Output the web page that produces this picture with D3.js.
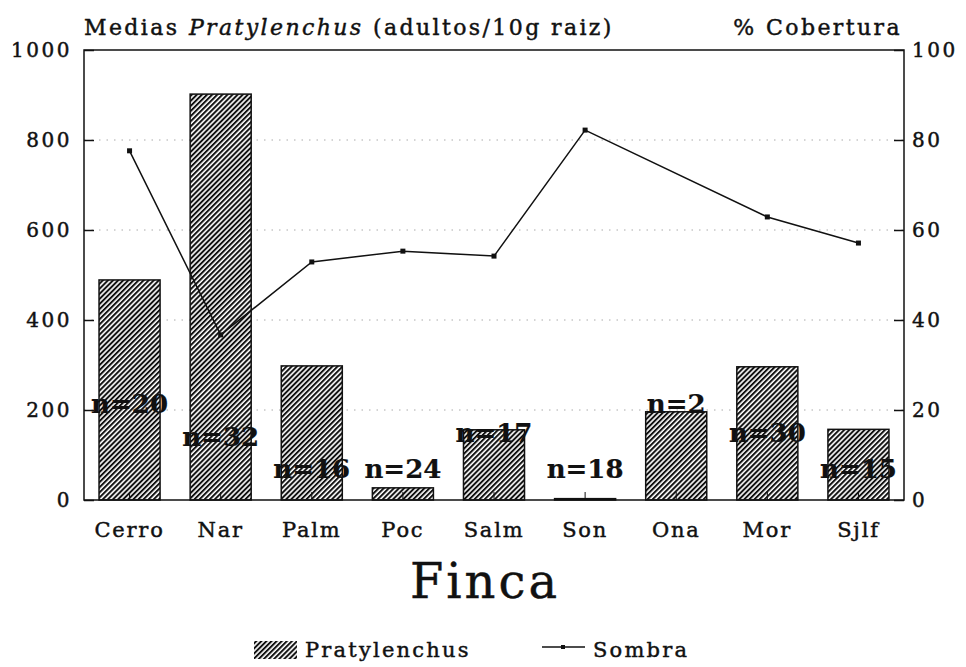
<!DOCTYPE html>
<html>
<head>
<meta charset="utf-8">
<script src="https://cdn.jsdelivr.net/npm/d3@7"></script>
<style>
  body { margin: 0; background: #fff; }
  text { font-family: "DejaVu Serif", serif; fill: #111; stroke: #111; stroke-width: 0.45px; }
  text.n { stroke-width: 0.2px; }
</style>
</head>
<body>
<svg id="chart"></svg>
<script>
const fincas = ["Cerro", "Nar", "Palm", "Poc", "Salm", "Son", "Ona", "Mor", "Sjlf"];
const pratylenchus = [489, 902, 298, 27, 156, 3, 196, 296, 157];
const sombra = [77.6, 36.7, 52.9, 55.3, 54.2, 82.2, null, 62.9, 57.1];
const nLabels = ["n=20", "n=32", "n=16", "n=24", "n=17", "n=18", "n=2", "n=30", "n=15"];
const nLabelY = [215, 140, 70, 70, 150, 70, 215, 150, 70];
const leftTicks = [0, 200, 400, 600, 800, 1000];
const rightTicks = [0, 20, 40, 60, 80, 100];

const width = 966, height = 667;
const margin = {top: 50, right: 62, bottom: 167, left: 84};

const svg = d3.select("#chart")
    .attr("width", width)
    .attr("height", height)
    .attr("viewBox", [0, 0, width, height]);

const defs = svg.append("defs");
const pat = defs.append("pattern")
    .attr("id", "hatch")
    .attr("patternUnits", "userSpaceOnUse")
    .attr("width", 3.6)
    .attr("height", 3.6)
    .attr("patternTransform", "rotate(45)");
pat.append("rect").attr("width", 3.6).attr("height", 3.6).attr("fill", "#fff");
pat.append("rect").attr("width", 2).attr("height", 3.6).attr("fill", "#111");

const x = d3.scaleBand()
    .domain(fincas)
    .range([margin.left, width - margin.right])
    .paddingInner(0.33)
    .paddingOuter(0.165);

const y = d3.scaleLinear().domain([0, 1000]).range([height - margin.bottom, margin.top]);
const y2 = d3.scaleLinear().domain([0, 100]).range([height - margin.bottom, margin.top]);

const x0 = margin.left, x1 = width - margin.right;
const yb = height - margin.bottom, yt = margin.top;

// dotted grid
svg.append("g")
    .selectAll("line")
    .data(leftTicks.filter(d => d > 0 && d < 1000))
    .join("line")
    .attr("x1", x0).attr("x2", x1)
    .attr("y1", d => y(d)).attr("y2", d => y(d))
    .attr("stroke", "#aaa")
    .attr("stroke-width", 1)
    .attr("stroke-dasharray", "1.5,6");

// bars
svg.append("g")
    .selectAll("rect")
    .data(fincas)
    .join("rect")
    .attr("x", d => x(d))
    .attr("width", x.bandwidth())
    .attr("y", (d, i) => y(pratylenchus[i]))
    .attr("height", (d, i) => y(0) - y(pratylenchus[i]))
    .attr("fill", "url(#hatch)")
    .attr("stroke", "#111")
    .attr("stroke-width", 1.5);

// frame
svg.append("rect")
    .attr("x", x0).attr("y", yt)
    .attr("width", x1 - x0).attr("height", yb - yt)
    .attr("fill", "none")
    .attr("stroke", "#111")
    .attr("stroke-width", 1.5);

// left axis
const yAxis = d3.axisRight(y).tickValues(leftTicks).tickSize(10).tickFormat("");
svg.append("g")
    .attr("transform", `translate(${x0},0)`)
    .call(yAxis)
    .call(g => g.select(".domain").remove())
    .call(g => g.selectAll("line").attr("stroke", "#111").attr("stroke-width", 1.5));
svg.append("g")
    .selectAll("text")
    .data(leftTicks)
    .join("text")
    .attr("x", x0 - 12)
    .attr("y", d => y(d))
    .attr("dy", "0.36em")
    .attr("text-anchor", "end")
    .style("font-size", "20px")
    .style("letter-spacing", "2.5px")
    .text(d => d);

// right axis
const y2Axis = d3.axisLeft(y2).tickValues(rightTicks).tickSize(10).tickFormat("");
svg.append("g")
    .attr("transform", `translate(${x1},0)`)
    .call(y2Axis)
    .call(g => g.select(".domain").remove())
    .call(g => g.selectAll("line").attr("stroke", "#111").attr("stroke-width", 1.5));
svg.append("g")
    .selectAll("text")
    .data(rightTicks)
    .join("text")
    .attr("x", x1 + 8)
    .attr("y", d => y2(d))
    .attr("dy", "0.36em")
    .attr("text-anchor", "start")
    .style("font-size", "20px")
    .style("letter-spacing", "2.5px")
    .text(d => d);

// bottom category ticks + labels
svg.append("g")
    .selectAll("line")
    .data(fincas)
    .join("line")
    .attr("x1", d => x(d) + x.bandwidth() / 2)
    .attr("x2", d => x(d) + x.bandwidth() / 2)
    .attr("y1", yb).attr("y2", yb - 8)
    .attr("stroke", "#111").attr("stroke-width", 1);
svg.append("g")
    .selectAll("text")
    .data(fincas)
    .join("text")
    .attr("x", d => x(d) + x.bandwidth() / 2)
    .attr("y", yb + 37)
    .attr("text-anchor", "middle")
    .style("font-size", "21px")
    .style("letter-spacing", "1.8px")
    .text(d => d);

// line
const pts = fincas.map((f, i) => ({f, v: sombra[i]})).filter(d => d.v != null);
const line = d3.line()
    .x(d => x(d.f) + x.bandwidth() / 2)
    .y(d => y2(d.v));
svg.append("path")
    .datum(pts)
    .attr("d", line)
    .attr("fill", "none")
    .attr("stroke", "#111")
    .attr("stroke-width", 1.5);
svg.append("g")
    .selectAll("rect")
    .data(pts)
    .join("rect")
    .attr("x", d => x(d.f) + x.bandwidth() / 2 - 2.5)
    .attr("y", d => y2(d.v) - 2.5)
    .attr("width", 5).attr("height", 5)
    .attr("fill", "#111");

// n labels
svg.append("g")
    .selectAll("text")
    .data(fincas)
    .join("text")
    .attr("class", "n")
    .attr("x", d => x(d) + x.bandwidth() / 2)
    .attr("y", (d, i) => y(nLabelY[i]))
    .attr("dy", "0.36em")
    .attr("text-anchor", "middle")
    .style("font-size", "26px")
    .style("font-weight", "bold")
    .text((d, i) => nLabels[i]);

// titles
const title = svg.append("text")
    .attr("x", x0)
    .attr("y", 35)
    .style("font-size", "22px")
    .style("letter-spacing", "2.4px");
title.append("tspan").text("Medias ");
title.append("tspan").style("font-style", "italic").text("Pratylenchus");
title.append("tspan").text(" (adultos/10g raiz)");

svg.append("text")
    .attr("x", x1 - 2)
    .attr("y", 35)
    .attr("text-anchor", "end")
    .style("font-size", "22px")
    .style("letter-spacing", "2.4px")
    .text("% Cobertura");

svg.append("text")
    .attr("x", (x0 + x1) / 2 - 9)
    .attr("y", 598)
    .attr("text-anchor", "middle")
    .style("font-size", "48px")
    .style("letter-spacing", "3px")
    .text("Finca");

// legend
const lg = svg.append("g");
lg.append("rect")
    .attr("x", 254).attr("y", 641).attr("width", 43).attr("height", 18)
    .attr("fill", "url(#hatch)");
lg.append("text")
    .attr("x", 305).attr("y", 657)
    .style("font-size", "21px")
    .style("letter-spacing", "2.2px")
    .text("Pratylenchus");
lg.append("line")
    .attr("x1", 542).attr("x2", 585).attr("y1", 647).attr("y2", 647)
    .attr("stroke", "#111").attr("stroke-width", 1.5);
lg.append("rect")
    .attr("x", 561).attr("y", 645).attr("width", 4).attr("height", 4)
    .attr("fill", "#111");
lg.append("text")
    .attr("x", 593).attr("y", 657)
    .style("font-size", "21px")
    .style("letter-spacing", "2.2px")
    .text("Sombra");
</script>
</body>
</html>
